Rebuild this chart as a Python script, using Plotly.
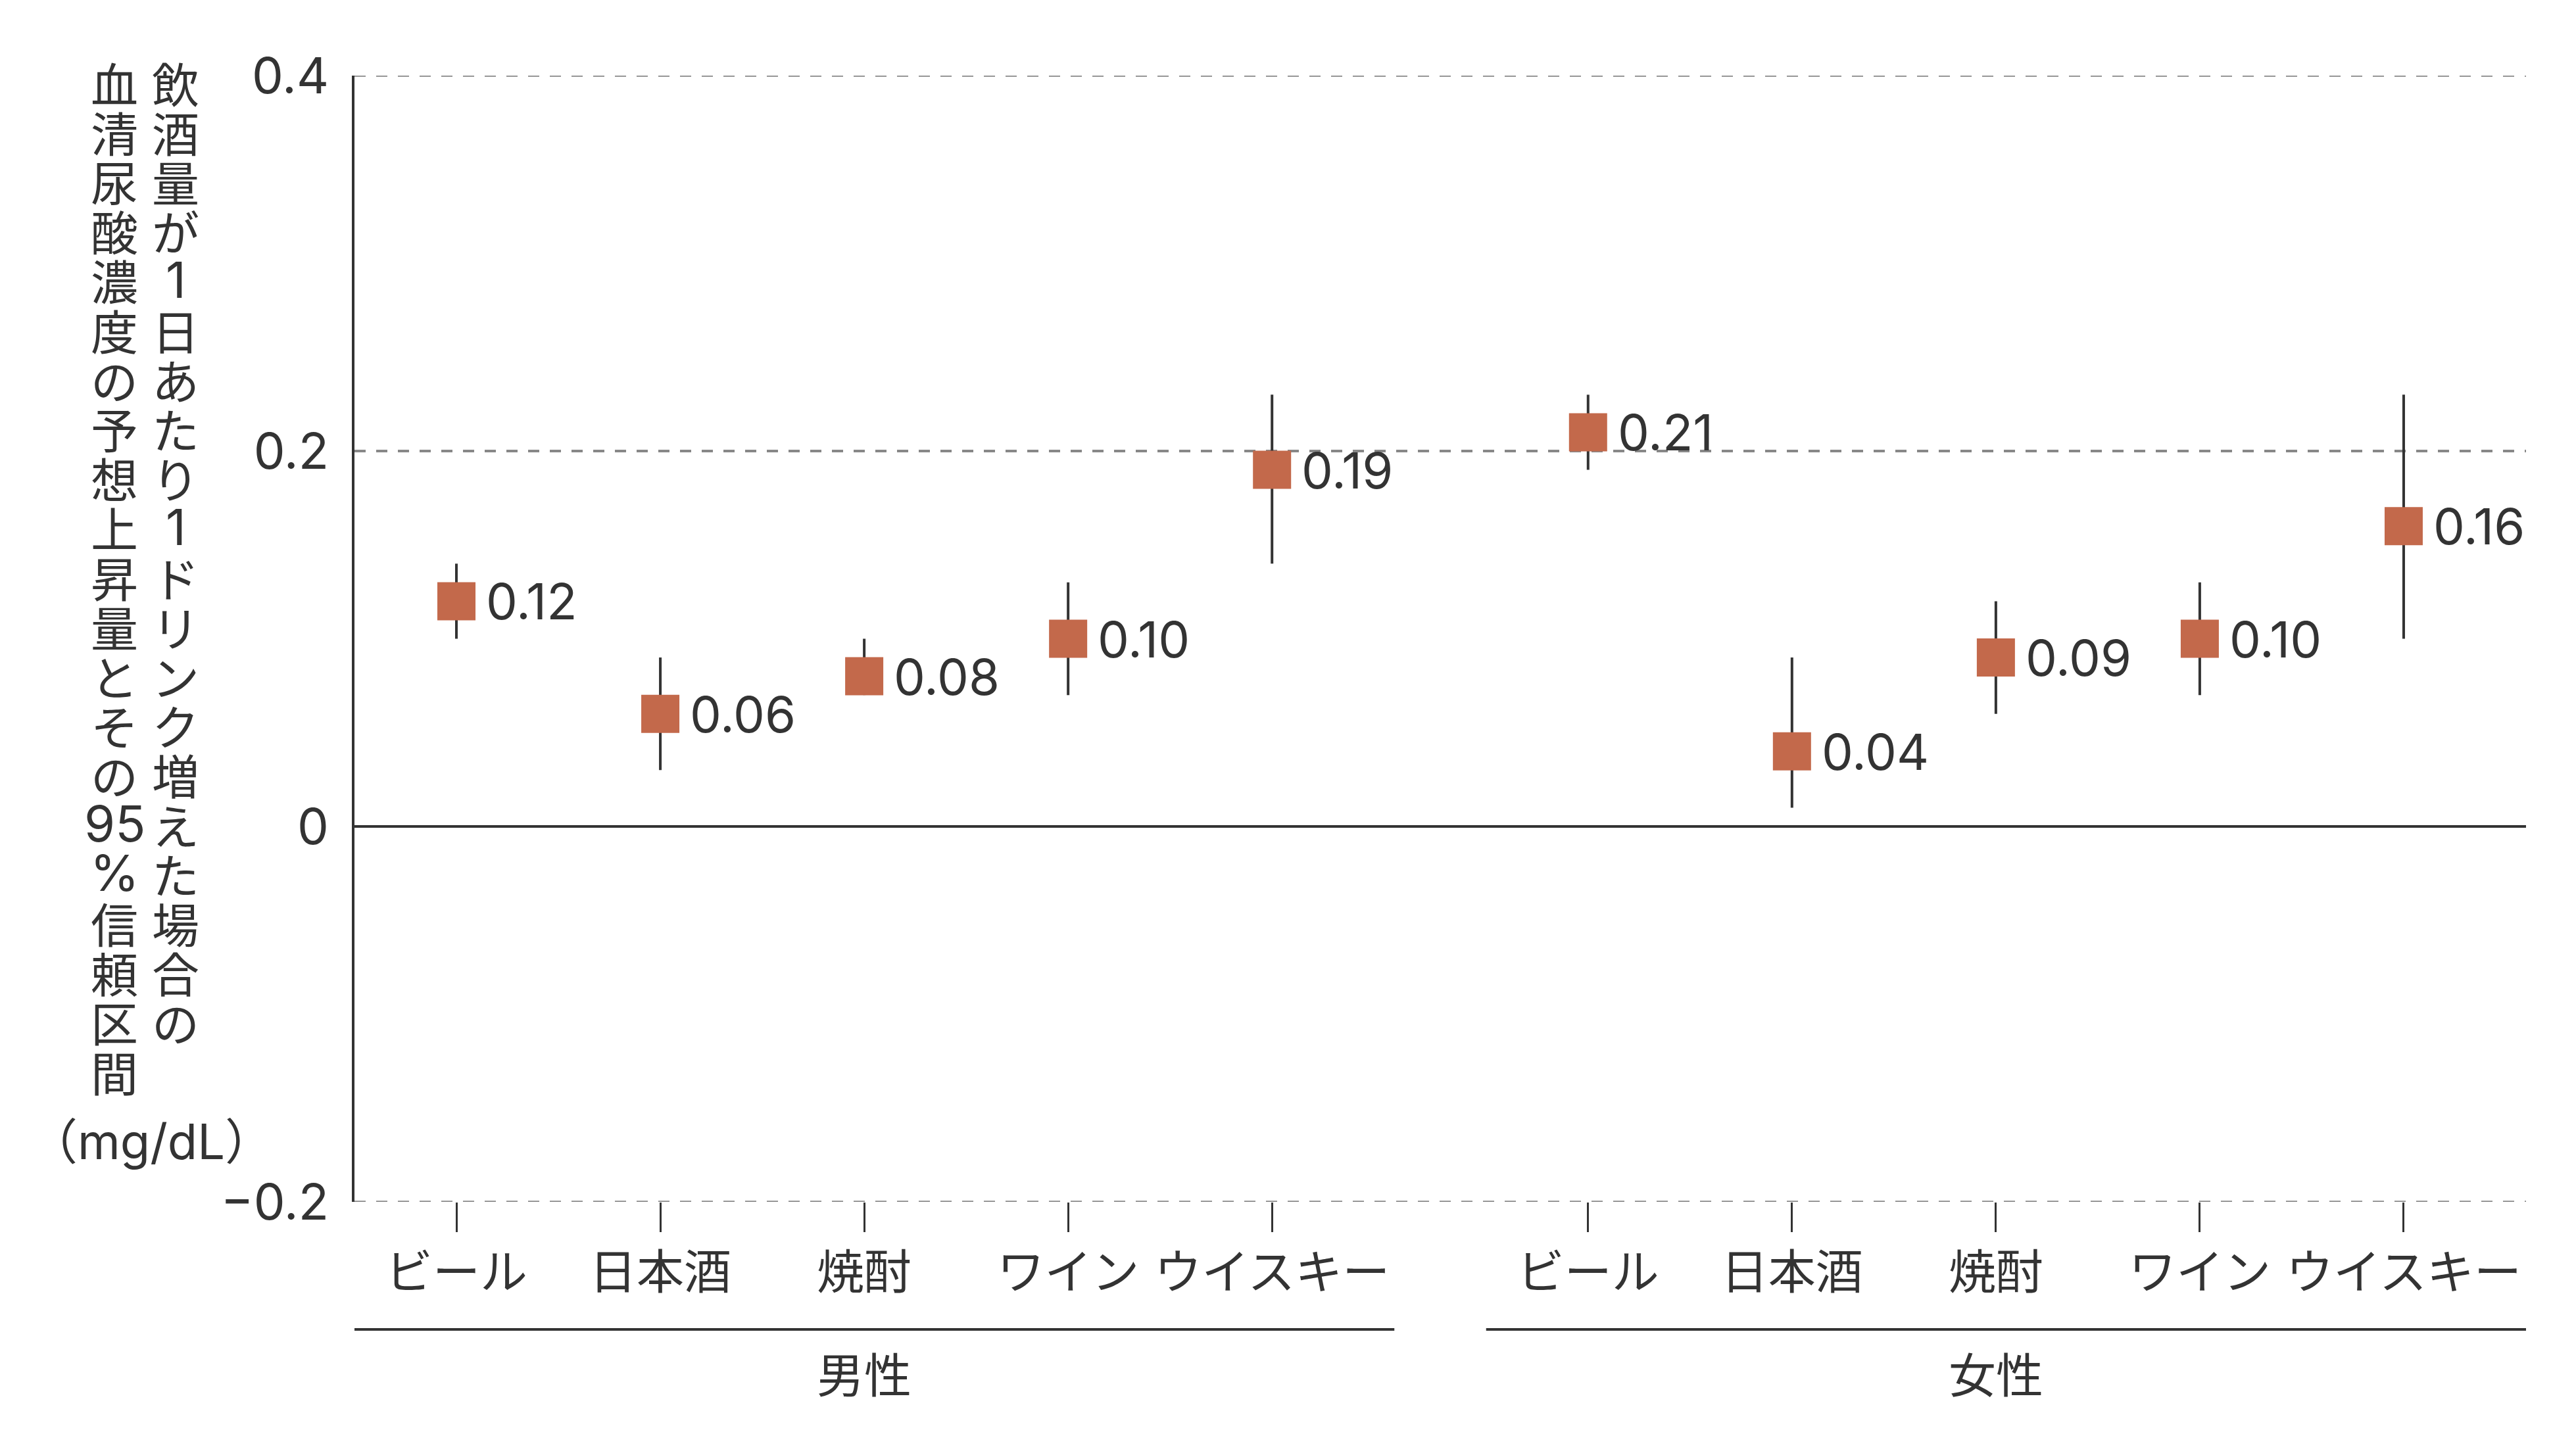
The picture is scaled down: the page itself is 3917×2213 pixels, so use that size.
import plotly.graph_objects as go

# values (mg/dL increase per 1 drink/day)
drinks = ['ビール', '日本酒', '焼酎', 'ワイン', 'ウイスキー']
groups = ['男性', '女性']

men_est = [0.12, 0.06, 0.08, 0.10, 0.19]
men_lo = [0.10, 0.03, 0.07, 0.07, 0.14]
men_hi = [0.14, 0.09, 0.10, 0.13, 0.23]

women_est = [0.21, 0.04, 0.09, 0.10, 0.16]
women_lo = [0.19, 0.01, 0.06, 0.07, 0.10]
women_hi = [0.23, 0.09, 0.12, 0.13, 0.23]

y_ticks = [-0.2, 0, 0.2, 0.4]
y_ticktext = ['−0.2', '0', '0.2', '0.4']

# y title, one cell per vertical position (right column, then left column)
title_right = ['飲', '酒', '量', 'が', '1', '日', 'あ', 'た', 'り', '1',
               'ド', 'リ', 'ン', 'ク', '増', 'え', 'た', '場', '合', 'の']
title_left = ['血', '清', '尿', '酸', '濃', '度', 'の', '予', '想', '上', '昇',
              '量', 'と', 'そ', 'の', '95', '%', '信', '頼', '区', '間']
title_unit = '（mg/dL）'

# layout constants (px)
W, H = 3917, 2213
ML, MR, MT, MB = 531, 84, 107, 393
GROUP_OFFSET = 5.55
X_RANGE = [-0.5, 10.15]
Y_RANGE = [-0.2, 0.4]
DASH = '17px,16px'

INK = '#333333'
GRID = '#888888'
MARK = '#C3694B'
NUM_FONT = 'Inter, Noto Sans CJK JP, sans-serif'
JP_FONT = 'Noto Sans CJK JP, sans-serif'

men_x = [i for i in range(len(drinks))]
women_x = [i + GROUP_OFFSET for i in range(len(drinks))]

fig = go.Figure()

for xs, est, lo, hi in [(men_x, men_est, men_lo, men_hi),
                        (women_x, women_est, women_lo, women_hi)]:
    fig.add_trace(go.Scatter(
        x=xs, y=est, mode='markers',
        marker=dict(symbol='square', size=58, color=MARK, line=dict(width=0)),
        error_y=dict(type='data', symmetric=False,
                     array=[h - e for h, e in zip(hi, est)],
                     arrayminus=[e - l for e, l in zip(est, lo)],
                     color=INK, thickness=4, width=0),
        showlegend=False, hoverinfo='skip'))
    for x, e in zip(xs, est):
        fig.add_annotation(x=x, y=e, text=f'{e:.2f}', showarrow=False,
                           xanchor='left', yanchor='middle', xshift=43,
                           font=dict(family=NUM_FONT, size=76, color=INK))

annotations = []
# vertical y-axis title
pitch = 75.2
for col, xshift in [(title_right, 259 - ML), (title_left, 166 - ML)]:
    for k, ch in enumerate(col):
        annotations.append(dict(
            xref='paper', yref='paper', x=0, y=1, text=ch, showarrow=False,
            xanchor='center', yanchor='middle', xshift=xshift,
            yshift=-(116 - MT + k * pitch),
            font=dict(family=NUM_FONT if ch.isascii() else JP_FONT,
                      size=76 if ch.isascii() else 72, color=INK)))
annotations.append(dict(
    xref='paper', yref='paper', x=0, y=1, text=title_unit, showarrow=False,
    xanchor='center', yanchor='middle', xshift=222 - ML, yshift=-(1728 - MT),
    font=dict(family=NUM_FONT, size=74, color=INK)))

# dashed lines at the range edges (plotly drops grid lines there)
shapes = []
for v in Y_RANGE:
    shapes.append(dict(type='line', xref='paper', yref='y', x0=0, x1=1,
                       y0=v, y1=v, layer='below',
                       line=dict(color=GRID, width=3.5, dash=DASH)))

# group labels and group lines under the category labels
plot_h = H - MT - MB
span = X_RANGE[1] - X_RANGE[0]
line_y = -(2014 - (H - MB)) / plot_h
for name, xs in zip(groups, [men_x, women_x]):
    x0 = (xs[0] - 0.5 - X_RANGE[0]) / span
    x1 = (xs[-1] + 0.6 - X_RANGE[0]) / span
    shapes.append(dict(type='line', xref='paper', yref='paper',
                       x0=x0, x1=x1, y0=line_y, y1=line_y,
                       line=dict(color=INK, width=4)))
    annotations.append(dict(
        xref='x', yref='paper', x=sum(xs) / len(xs), y=0, text=name,
        showarrow=False, xanchor='center', yanchor='middle',
        yshift=-(2078 - (H - MB)),
        font=dict(family=JP_FONT, size=72, color=INK)))

fig.update_layout(
    width=W, height=H,
    margin=dict(l=ML, r=MR, t=MT, b=MB),
    paper_bgcolor='white', plot_bgcolor='white',
    annotations=list(fig.layout.annotations) + annotations,
    shapes=shapes,
    xaxis=dict(range=X_RANGE, tickvals=men_x + women_x,
               ticktext=drinks + drinks, showgrid=False, zeroline=False,
               showline=False, ticks='outside', ticklen=45, tickwidth=3,
               tickcolor=INK,
               tickfont=dict(family=JP_FONT, size=72, color=INK)),
    yaxis=dict(range=Y_RANGE, tickvals=y_ticks, ticktext=y_ticktext,
               showgrid=True, gridcolor=GRID, gridwidth=3.5,
               griddash=DASH,
               zeroline=True, zerolinecolor=INK, zerolinewidth=3.5,
               showline=True, linecolor=INK, linewidth=3.5,
               ticks='', ticklabelstandoff=20,
               tickfont=dict(family=NUM_FONT, size=76, color=INK)),
)

fig.write_html("out.html")
